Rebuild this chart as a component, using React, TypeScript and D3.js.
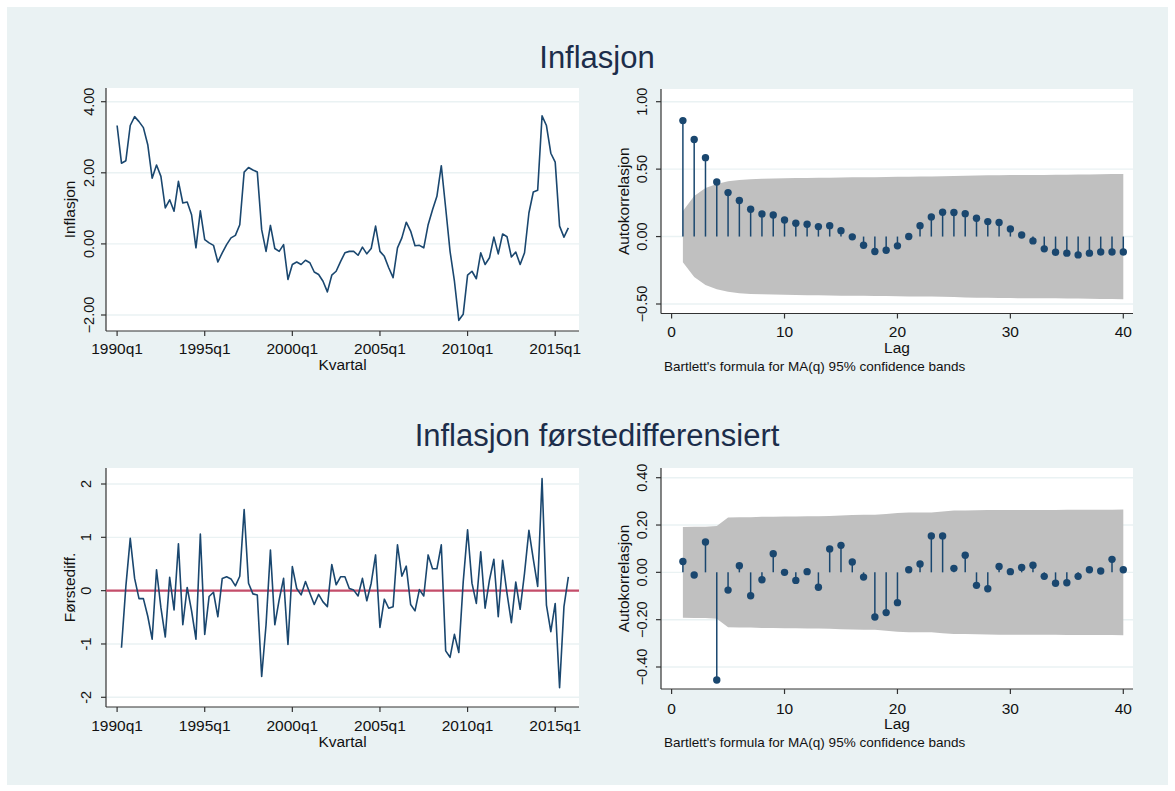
import React from "react";
import * as d3 from "d3";

// Kvartalsdata 1990q1-2015q4
const quarterTicks = [0, 20, 40, 60, 80, 100];
const quarterLabels = ["1990q1", "1995q1", "2000q1", "2005q1", "2010q1", "2015q1"];

const inflasjon = [
  3.33, 2.27, 2.34, 3.33, 3.58, 3.44, 3.27, 2.79, 1.85, 2.22,
  1.90, 1.01, 1.24, 0.92, 1.76, 1.15, 1.18, 0.82, -0.11, 0.93,
  0.12, 0.03, -0.04, -0.51, -0.25, -0.02, 0.17, 0.24, 0.54, 2.02,
  2.15, 2.08, 2.02, 0.40, -0.21, 0.52, -0.13, -0.21, -0.02, -1.00,
  -0.58, -0.51, -0.58, -0.46, -0.53, -0.79, -0.86, -1.05, -1.35, -0.88,
  -0.77, -0.50, -0.25, -0.21, -0.21, -0.32, -0.09, -0.28, -0.13, 0.50,
  -0.21, -0.35, -0.67, -0.95, -0.11, 0.17, 0.61, 0.36, -0.05, -0.04,
  -0.11, 0.54, 0.96, 1.34, 2.20, 1.01, -0.21, -1.05, -2.15, -1.98,
  -0.88, -0.77, -0.98, -0.25, -0.58, -0.39, 0.19, -0.28, 0.28, 0.20,
  -0.37, -0.23, -0.58, -0.25, 0.87, 1.46, 1.51, 3.60, 3.33, 2.55,
  2.30, 0.50, 0.19, 0.45,
];

// starter 1990q2
const forstediff = [
  -1.07, 0.08, 0.98, 0.23, -0.15, -0.15, -0.48, -0.91, 0.39, -0.32,
  -0.87, 0.25, -0.36, 0.88, -0.64, 0.06, -0.38, -0.91, 1.06, -0.82,
  -0.11, -0.03, -0.49, 0.23, 0.26, 0.22, 0.09, 0.27, 1.52, 0.14,
  -0.06, -0.08, -1.61, -0.64, 0.76, -0.64, -0.17, 0.23, -1.01, 0.45,
  0.04, -0.08, 0.17, -0.05, -0.26, -0.07, -0.21, -0.30, 0.49, 0.11,
  0.26, 0.26, 0.04, 0.01, -0.10, 0.23, -0.19, 0.14, 0.67, -0.69,
  -0.16, -0.33, -0.30, 0.86, 0.27, 0.46, -0.26, -0.38, 0.02, -0.10,
  0.67, 0.41, 0.41, 0.86, -1.13, -1.25, -0.82, -1.16, 0.16, 1.14,
  0.14, -0.24, 0.73, -0.33, 0.20, 0.59, -0.49, 0.57, -0.05, -0.60,
  0.16, -0.35, 0.33, 1.13, 0.59, 0.08, 2.10, -0.27, -0.77, -0.24,
  -1.82, -0.30, 0.26,
];

// autokorrelasjon, lag 1-40
const acfNiva = [
  0.86, 0.72, 0.585, 0.405, 0.326, 0.267, 0.202, 0.168, 0.16, 0.123,
  0.099, 0.091, 0.074, 0.081, 0.044, -0.002, -0.064, -0.111, -0.101, -0.069,
  0.0, 0.081, 0.146, 0.18, 0.178, 0.17, 0.136, 0.111, 0.104, 0.057,
  0.012, -0.032, -0.091, -0.116, -0.123, -0.136, -0.123, -0.114, -0.114, -0.114,
];
const bandNiva = [
  0.19, 0.30, 0.36, 0.39, 0.41, 0.42, 0.425, 0.428, 0.43, 0.432,
  0.434, 0.435, 0.436, 0.437, 0.438, 0.439, 0.439, 0.44, 0.441, 0.443,
  0.444, 0.445, 0.445, 0.447, 0.449, 0.451, 0.453, 0.454, 0.455, 0.456,
  0.457, 0.457, 0.457, 0.458, 0.459, 0.46, 0.461, 0.462, 0.463, 0.464,
];
const acfDiff = [
  0.046, -0.011, 0.128, -0.455, -0.075, 0.028, -0.099, -0.031, 0.079, 0.0,
  -0.034, 0.003, -0.063, 0.099, 0.114, 0.044, -0.02, -0.189, -0.17, -0.128,
  0.011, 0.035, 0.154, 0.154, 0.017, 0.072, -0.055, -0.069, 0.025, 0.003,
  0.021, 0.03, -0.017, -0.046, -0.044, -0.017, 0.011, 0.006, 0.055, 0.011,
];
const bandDiff = [
  0.192, 0.193, 0.193, 0.196, 0.232, 0.233, 0.233, 0.235, 0.235, 0.236,
  0.236, 0.237, 0.237, 0.238, 0.240, 0.242, 0.243, 0.243, 0.247, 0.251,
  0.253, 0.253, 0.253, 0.257, 0.261, 0.261, 0.262, 0.263, 0.264, 0.264,
  0.264, 0.264, 0.264, 0.264, 0.265, 0.265, 0.265, 0.265, 0.265, 0.266,
];
const lagTicks = [0, 10, 20, 30, 40];

const NAVY = "#1a476f";
const GRID = "#eaf2f3";
const AXIS = "#333333";
const FONT = "'Liberation Sans', Arial, sans-serif";

type Frame = {
  left: number; right: number; top: number; bottom: number;
  yLabelX: number; yTitleX: number; xLabelY: number; xTitleY: number;
};

function Axes({ f, x, y, yTicks, yFmt, xTicks, xFmt, yTitle, xTitle }: any) {
  const fr: Frame = f;
  return (
    <g>
      <rect x={fr.left} y={fr.top} width={fr.right - fr.left} height={fr.bottom - fr.top} fill="#ffffff" />
      {yTicks.map((t: number) => (
        <line key={"g" + t} x1={fr.left} x2={fr.right} y1={y(t)} y2={y(t)} stroke={GRID} strokeWidth={1.4} />
      ))}
      <line x1={fr.left} x2={fr.left} y1={fr.top} y2={fr.bottom} stroke={AXIS} strokeWidth={1.2} />
      <line x1={fr.left} x2={fr.right} y1={fr.bottom} y2={fr.bottom} stroke={AXIS} strokeWidth={1.2} />
      {yTicks.map((t: number) => (
        <g key={"y" + t}>
          <line x1={fr.left - 5} x2={fr.left} y1={y(t)} y2={y(t)} stroke={AXIS} strokeWidth={1.2} />
          <text transform={`translate(${fr.yLabelX},${y(t)}) rotate(-90)`} textAnchor="middle"
            dominantBaseline="central" fontSize={14.5} fill="#111">{yFmt(t)}</text>
        </g>
      ))}
      {xTicks.map((t: number, i: number) => (
        <g key={"x" + t}>
          <line x1={x(t)} x2={x(t)} y1={fr.bottom} y2={fr.bottom + 5} stroke={AXIS} strokeWidth={1.2} />
          <text x={x(t)} y={fr.xLabelY} textAnchor="middle" dominantBaseline="central" fontSize={15.5} fill="#111">
            {xFmt(t, i)}
          </text>
        </g>
      ))}
      <text transform={`translate(${fr.yTitleX},${(fr.top + fr.bottom) / 2}) rotate(-90)`} textAnchor="middle"
        dominantBaseline="central" fontSize={15.5} fill="#111">{yTitle}</text>
      <text x={(fr.left + fr.right) / 2} y={fr.xTitleY} textAnchor="middle" dominantBaseline="central"
        fontSize={15.5} fill="#111">{xTitle}</text>
    </g>
  );
}

function TsPanel({ f, values, start, yDomain, yRange, yTicks, yFmt, yTitle, zeroLine }: any) {
  const x = d3.scaleLinear().domain([0, 100]).range([117.1, 555.2]);
  const y = d3.scaleLinear().domain(yDomain).range(yRange);
  const line = d3.line<number>().x((d, i) => x(i + start)).y((d) => y(d));
  return (
    <g>
      <Axes f={f} x={x} y={y} yTicks={yTicks} yFmt={yFmt} xTicks={quarterTicks}
        xFmt={(t: number, i: number) => quarterLabels[i]} yTitle={yTitle} xTitle="Kvartal" />
      {zeroLine && (
        <line x1={f.left} x2={f.right} y1={y(0)} y2={y(0)} stroke="#c44d6a" strokeWidth={2.2} />
      )}
      <path d={line(values) || ""} fill="none" stroke={NAVY} strokeWidth={1.6} strokeLinejoin="round" />
    </g>
  );
}

function AcfPanel({ f, acf, band, yDomain, yRange, yTicks, noteY }: any) {
  const x = d3.scaleLinear().domain([0, 40]).range([671.6, 1123.3]);
  const y = d3.scaleLinear().domain(yDomain).range(yRange);
  const area = d3.area<number>().x((d, i) => x(i + 1)).y0((d) => y(-d)).y1((d) => y(d));
  return (
    <g>
      <Axes f={f} x={x} y={y} yTicks={yTicks} yFmt={d3.format(".2f")} xTicks={lagTicks}
        xFmt={(t: number) => String(t)} yTitle="Autokorrelasjon" xTitle="Lag" />
      <path d={area(band) || ""} fill="#c0c0c0" />
      {acf.map((v: number, i: number) => (
        <g key={i}>
          <line x1={x(i + 1)} x2={x(i + 1)} y1={y(0)} y2={y(v)} stroke={NAVY} strokeWidth={1.5} />
          <circle cx={x(i + 1)} cy={y(v)} r={3.7} fill={NAVY} />
        </g>
      ))}
      <text x={664} y={noteY} dominantBaseline="central" fontSize={13.5} fill="#111">
        Bartlett's formula for MA(q) 95% confidence bands
      </text>
    </g>
  );
}

export default function App() {
  const tl: Frame = { left: 106, right: 579, top: 88, bottom: 331, yLabelX: 89, yTitleX: 69, xLabelY: 348, xTitleY: 364 };
  const tr: Frame = { left: 661, right: 1133, top: 89, bottom: 313.5, yLabelX: 642, yTitleX: 623, xLabelY: 331, xTitleY: 347 };
  const bl: Frame = { left: 106, right: 579, top: 468, bottom: 707, yLabelX: 86, yTitleX: 69, xLabelY: 725, xTitleY: 741 };
  const br: Frame = { left: 661, right: 1133, top: 468, bottom: 689, yLabelX: 642, yTitleX: 623, xLabelY: 708, xTitleY: 723 };
  return (
    <svg width={1175} height={791} style={{ position: "absolute", left: 0, top: 0, fontFamily: FONT }}>
      <rect x={0} y={0} width={1175} height={791} fill="#ffffff" />
      <rect x={7} y={7} width={1161} height={778} fill={GRID} />
      <text x={597} y={57} textAnchor="middle" dominantBaseline="central" fontSize={31} fill="#1c2d4a">Inflasjon</text>
      <text x={597} y={435} textAnchor="middle" dominantBaseline="central" fontSize={31} fill="#1c2d4a">
        Inflasjon førstedifferensiert
      </text>
      <TsPanel f={tl} values={inflasjon} start={0} yDomain={[-2, 4]} yRange={[315, 101.7]}
        yTicks={[4, 2, 0, -2]} yFmt={d3.format(".2f")} yTitle="Inflasjon" />
      <AcfPanel f={tr} acf={acfNiva} band={bandNiva} yDomain={[-0.5, 1]} yRange={[304, 101.7]}
        yTicks={[1, 0.5, 0, -0.5]} noteY={366.5} />
      <TsPanel f={bl} values={forstediff} start={1} yDomain={[-2, 2]} yRange={[697.3, 484]}
        yTicks={[2, 1, 0, -1, -2]} yFmt={(t: number) => String(t)} yTitle="Førstediff." zeroLine />
      <AcfPanel f={br} acf={acfDiff} band={bandDiff} yDomain={[-0.4, 0.4]} yRange={[667, 477.7]}
        yTicks={[0.4, 0.2, 0, -0.2, -0.4]} noteY={742.5} />
    </svg>
  );
}
